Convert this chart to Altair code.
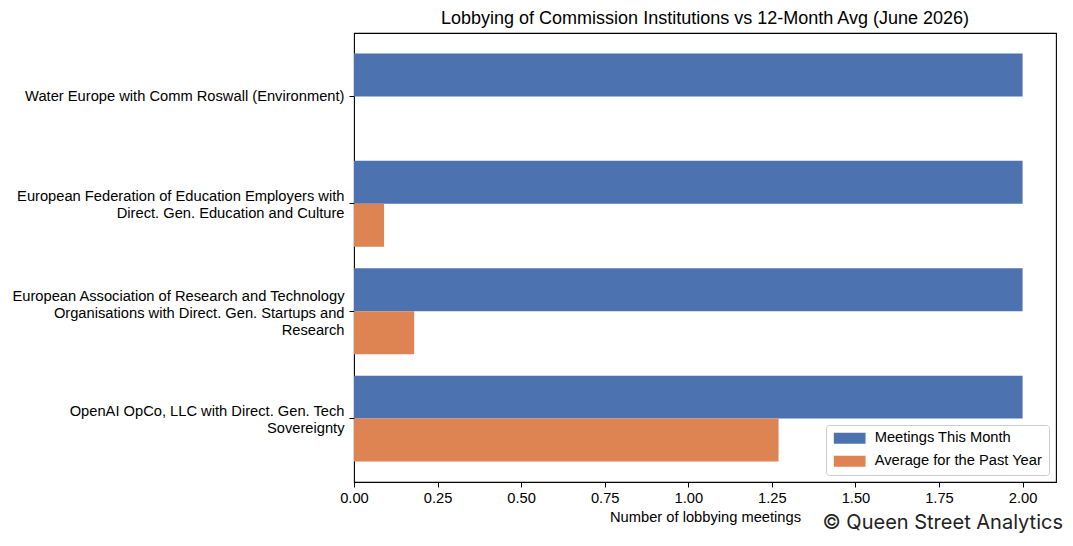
import altair as alt
import pandas as pd

categories = [
    "Water Europe with Comm Roswall (Environment)",
    "European Federation of Education Employers with|Direct. Gen. Education and Culture",
    "European Association of Research and Technology|Organisations with Direct. Gen. Startups and|Research",
    "OpenAI OpCo, LLC with Direct. Gen. Tech|Sovereignty",
]
series_names = ["Meetings This Month", "Average for the Past Year"]
meetings_this_month = [2, 2, 2, 2]
avg_past_year = [0.0, 0.09, 0.18, 1.27]
x_ticks = [0, 0.25, 0.5, 0.75, 1.0, 1.25, 1.5, 1.75, 2.0]
colors = ["#4C72B0", "#DD8452"]

rows = []
for c, a, b in zip(categories, meetings_this_month, avg_past_year):
    rows.append({"cat": c, "series": series_names[0], "value": a})
    rows.append({"cat": c, "series": series_names[1], "value": b})
df = pd.DataFrame(rows)

FONT = "Liberation Sans"
FS = 14.7
LH = 16.9

bars = alt.Chart(df).mark_bar().encode(
    y=alt.Y(
        "cat:N",
        sort=categories,
        scale=alt.Scale(paddingInner=0.2, paddingOuter=0.19),
        axis=alt.Axis(
            title=None,
            labelExpr="split(datum.label, '|')",
            labelLimit=0,
            labelFontSize=FS,
            labelFont=FONT,
            labelColor="#000000",
            labelLineHeight=LH,
            labelPadding=5,
            labelOffset={
                "condition": [
                    {"test": "length(split(datum.value, '|')) == 3", "value": -LH + 2.5},
                    {"test": "length(split(datum.value, '|')) == 2", "value": -LH / 2 + 2},
                ],
                "value": 1,
            },
            tickSize=5,
            tickColor="#000000",
            domain=False,
            grid=False,
        ),
    ),
    yOffset=alt.YOffset("series:N", sort=series_names),
    x=alt.X(
        "value:Q",
        scale=alt.Scale(domain=[0, 2.1], nice=False, zero=True),
        axis=alt.Axis(
            title="Number of lobbying meetings",
            values=x_ticks,
            format=".2f",
            labelFontSize=FS,
            labelFont=FONT,
            labelColor="#000000",
            labelPadding=3,
            labelFlush=False,
            labelOverlap=False,
            tickSize=5,
            tickColor="#000000",
            domain=False,
            grid=False,
            titleFont=FONT,
            titleFontSize=FS,
            titleFontWeight="normal",
            titleColor="#000000",
            titlePadding=5,
        ),
    ),
    color=alt.Color(
        "series:N",
        sort=series_names,
        scale=alt.Scale(domain=series_names, range=colors),
        legend=alt.Legend(
            title=None,
            orient="none",
            legendX=472,
            legendY=392,
            symbolType="M-1,-1H4.76V1H-1Z",
            symbolSize=121,
            symbolStrokeWidth=0,
            labelOffset=28,
            labelLimit=0,
            labelFont=FONT,
            labelFontSize=FS,
            labelColor="#000000",
            rowPadding=7,
            padding=6,
            strokeColor="#cccccc",
            fillColor="#ffffff",
            cornerRadius=3,
        ),
    ),
)

watermark = alt.Chart(pd.DataFrame({"t": ["© Queen Street Analytics"]})).mark_text(
    align="right", baseline="middle", font="Inter", fontSize=20, color="#222222"
).encode(text="t:N", x=alt.value(709), y=alt.value(490))

chart = (
    alt.layer(bars, watermark)
    .properties(
        width=702,
        height=449,
        autosize=alt.AutoSizeParams(type="none"),
        padding={"left": 354, "top": 33, "right": 17, "bottom": 64},
        title=alt.TitleParams(
            "Lobbying of Commission Institutions vs 12-Month Avg (June 2026)",
            font=FONT,
            fontSize=18,
            fontWeight="normal",
            color="#000000",
            anchor="middle",
            frame="group",
            offset=5,
        ),
    )
    .configure_view(stroke="#000000", strokeWidth=1.1)
    .configure_legend(symbolOpacity=1)
)

chart.save("out.html", embed_options={"renderer": "svg", "actions": False})
